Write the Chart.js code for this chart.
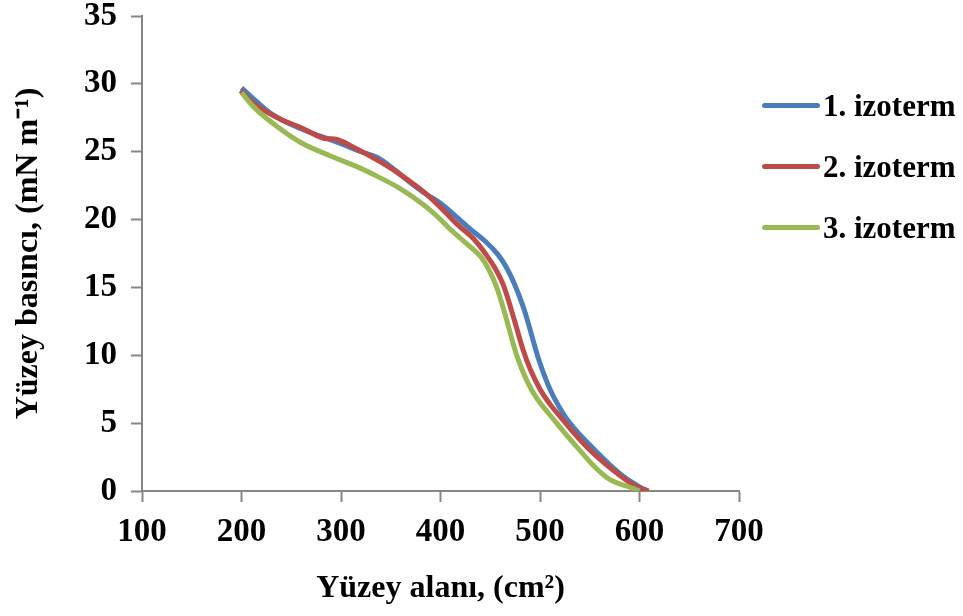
<!DOCTYPE html>
<html>
<head>
<meta charset="utf-8">
<script src="https://cdn.jsdelivr.net/npm/chart.js@4/dist/chart.umd.min.js"></script>
<style>
  body { margin: 0; background: #fff; }
  #wrap { position: relative; width: 963px; height: 616px; }
  #legend { position: absolute; left: 762px; top: 75px; font-family: "Liberation Serif", "Times New Roman", serif; font-weight: bold; font-size: 31px; color: #000; }
  .item { height: 61px; display: flex; align-items: center; white-space: nowrap; }
  .item span.swatch { display: inline-block; width: 58px; height: 5px; border-radius: 3px; margin-right: 3px; }
</style>
</head>
<body>
<div id="wrap">
  <canvas id="isotherms" width="963" height="616"></canvas>
  <div id="legend"></div>
</div>
<script>
// surface area (cm2) vs surface pressure (mN/m) for three runs
var seriesNames = ["1. izoterm", "2. izoterm", "3. izoterm"];
var seriesColours = ["#4A7EBB", "#BE4B48", "#98B954"];

var area1 = [200, 215, 230, 250, 270, 300, 320, 336, 350, 365, 383, 400, 416, 430, 445, 458, 466, 474, 483, 490, 497, 505, 514, 530, 554, 580, 600, 608];
var pressure1 = [29.7, 28.7, 27.8, 27.0, 26.4, 25.6, 25.0, 24.6, 23.9, 23.0, 22.0, 21.2, 20.2, 19.3, 18.4, 17.4, 16.5, 15.3, 13.6, 11.9, 10.1, 8.4, 6.9, 5.0, 3.1, 1.3, 0.3, 0];

var area2 = [199, 215, 239, 259, 282, 296, 316, 336, 356, 382, 400, 416, 433, 446, 455, 463, 473, 483, 490, 500, 510, 520, 547, 574, 595, 609];
var pressure2 = [29.5, 28.4, 27.4, 26.8, 26.0, 25.9, 25.2, 24.4, 23.5, 22.1, 20.9, 19.7, 18.6, 17.4, 16.4, 15.2, 12.9, 10.4, 9.0, 7.5, 6.4, 5.5, 3.25, 1.5, 0.4, 0];

var area3 = [200, 215, 235, 259, 289, 316, 336, 359, 383, 400, 411, 425, 440, 450, 457, 463, 468, 477, 487, 497, 510, 537, 567, 594, 600];
var pressure3 = [29.35, 28.1, 26.9, 25.7, 24.7, 23.9, 23.2, 22.3, 21.1, 20.0, 19.2, 18.3, 17.3, 16.1, 14.9, 13.5, 12.2, 9.9, 8.1, 6.8, 5.6, 3.25, 1.0, 0.18, 0];

var xTicks = [100, 200, 300, 400, 500, 600, 700];
var yTicks = [0, 5, 10, 15, 20, 25, 30, 35];

function toPoints(xs, ys) {
    var pts = [];
    for (let i = 0; i < xs.length; i++) {
        pts.push({ x: xs[i], y: ys[i] });
    }
    return pts;
}

var areas = [area1, area2, area3];
var pressures = [pressure1, pressure2, pressure3];
var datasets = [];
for (let i = 0; i < 3; i++) {
    datasets.push({
        label: seriesNames[i],
        data: toPoints(areas[i], pressures[i]),
        borderColor: seriesColours[i],
        backgroundColor: seriesColours[i],
        borderWidth: 5,
        pointRadius: 0,
        showLine: true,
        tension: 0.4,
        order: 3 - i
    });
}

var fontFamily = '"Liberation Serif", "Times New Roman", serif';
var axisGrey = '#878787';

var ctx = document.getElementById("isotherms").getContext('2d');
var myChart = new Chart(ctx, {
    type: 'scatter',
    data: { datasets: datasets },
    options: {
        responsive: false,
        animation: false,
        layout: { padding: { top: 16, left: 0, right: 224, bottom: 0 } },
        plugins: {
            legend: { display: false },
            tooltip: { enabled: false }
        },
        scales: {
            x: {
                min: 100,
                max: 700,
                afterBuildTicks: function(axis) {
                    axis.ticks = xTicks.map(v => ({ value: v }));
                },
                afterFit: function(axis) { axis.height = 125; },
                grid: { drawOnChartArea: false, color: axisGrey, tickLength: 11, tickWidth: 2 },
                border: { color: axisGrey, width: 2 },
                ticks: { color: '#000', padding: 11, font: { family: fontFamily, size: 33, weight: 'bold' } },
                title: {
                    display: true,
                    text: 'Yüzey alanı, (cm²)',
                    color: '#000',
                    padding: { top: 0, bottom: 8 },
                    font: { family: fontFamily, size: 32, weight: 'bold' }
                }
            },
            y: {
                min: 0,
                max: 35,
                afterBuildTicks: function(axis) {
                    axis.ticks = yTicks.map(v => ({ value: v }));
                },
                afterFit: function(axis) {
                    axis.width = 142;
                    axis.paddingTop = 0;
                    axis.paddingBottom = 0;
                },
                grid: { drawOnChartArea: false, color: axisGrey, tickLength: 11, tickWidth: 2 },
                border: { color: axisGrey, width: 2 },
                ticks: { color: '#000', padding: 14, font: { family: fontFamily, size: 33, weight: 'bold' } },
                title: {
                    display: true,
                    text: 'Yüzey basıncı, (mN m⁻¹)',
                    color: '#000',
                    padding: { top: 10, bottom: 0 },
                    font: { family: fontFamily, size: 32, weight: 'bold' }
                }
            }
        }
    }
});

// legend on the right
var legend = document.getElementById("legend");
for (let i = 0; i < seriesNames.length; i++) {
    legend.innerHTML += `<div class="item"><span class="swatch" style="background:${seriesColours[i]}"></span>${seriesNames[i]}</div>`;
}
</script>
</body>
</html>
